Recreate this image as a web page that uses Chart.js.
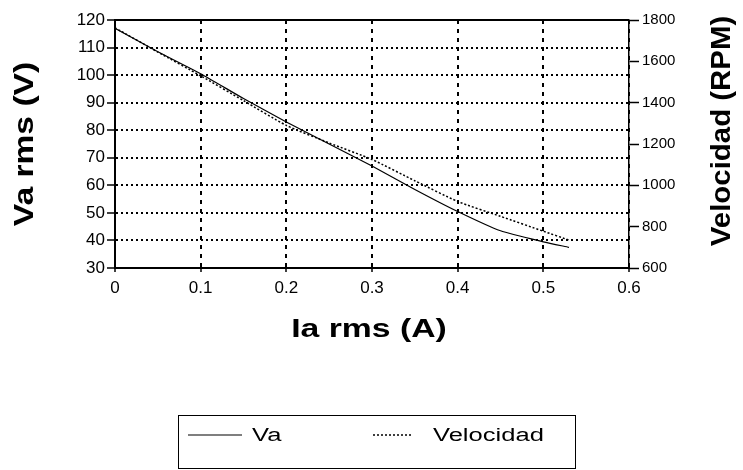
<!DOCTYPE html>
<html>
<head>
  <meta charset="utf-8">
  <title>Va y Velocidad vs Ia</title>
  <script src="https://cdn.jsdelivr.net/npm/chart.js@4"></script>
  <style>
    body { margin: 0; background: #fff; }
  </style>
</head>
<body>
  <canvas id="grafico" width="743" height="470"></canvas>

  <script>
    // corriente de armadura Ia rms (A)
    const ia = [0, 0.05, 0.10, 0.15, 0.20, 0.25, 0.30, 0.35, 0.40, 0.45, 0.50, 0.53];
    // tension de armadura Va rms (V)
    const va = [117, 108.5, 100.5, 91.5, 83, 75, 67, 58.5, 50.5, 43.5, 39.5, 37.5];
    // velocidad del motor (RPM)
    const velocidad = [1762, 1645, 1530, 1410, 1290, 1205, 1125, 1022, 922, 850, 778, 735];

    // marcas de los ejes
    const ticksIa = [0, 0.1, 0.2, 0.3, 0.4, 0.5, 0.6];
    const ticksVa = [30, 40, 50, 60, 70, 80, 90, 100, 110, 120];
    const ticksVel = [600, 800, 1000, 1200, 1400, 1600, 1800];

    const fuente = 'Liberation Sans, Arial, sans-serif';

    // texto estirado a lo largo de la linea de lectura
    function texto(ctx, t, x, y, font, sx, align, rot) {
      ctx.save();
      ctx.translate(x, y);
      if (rot) ctx.rotate(rot);
      ctx.scale(sx, 1);
      ctx.font = font;
      ctx.textAlign = align;
      ctx.textBaseline = 'middle';
      ctx.fillStyle = '#000';
      ctx.fillText(t, 0, 0);
      ctx.restore();
    }

    const marco = {
      id: 'marco',
      beforeDraw(chart) {
        const ctx = chart.ctx;
        ctx.save();
        ctx.fillStyle = '#fff';
        ctx.fillRect(0, 0, chart.width, chart.height);
        ctx.restore();
      },
      afterDraw(chart) {
        const { ctx, chartArea: a } = chart;

        // linea superior del recuadro
        ctx.save();
        ctx.strokeStyle = '#000';
        ctx.lineWidth = 2;
        ctx.beginPath();
        ctx.moveTo(a.left, a.top);
        ctx.lineTo(a.right, a.top);
        ctx.stroke();
        ctx.restore();

        // titulos de los ejes
        texto(ctx, 'Va rms (V)', 25, 144, 'bold 28px ' + fuente, 1.2, 'center', -Math.PI / 2);
        texto(ctx, 'Velocidad (RPM)', 722, 131, 'bold 28px ' + fuente, 1.05, 'center', -Math.PI / 2);
        texto(ctx, 'Ia rms (A)', 369, 330, 'bold 25px ' + fuente, 1.35, 'center');

        // leyenda en recuadro
        ctx.save();
        ctx.strokeStyle = '#000';
        ctx.lineWidth = 1;
        ctx.strokeRect(178.5, 415.5, 397, 53);
        const items = [
          { x0: 188, x1: 242, tx: 252 },
          { x0: 373, x1: 413, tx: 433 }
        ];
        chart.data.datasets.forEach((ds, i) => {
          const it = items[i];
          ctx.save();
          ctx.strokeStyle = ds.borderColor;
          ctx.lineWidth = ds.borderWidth;
          ctx.setLineDash(ds.borderDash || []);
          ctx.beginPath();
          ctx.moveTo(it.x0, 435);
          ctx.lineTo(it.x1, 435);
          ctx.stroke();
          ctx.restore();
          texto(ctx, ds.label, it.tx, 436, '18px ' + fuente, 1.42, 'left');
        });
        ctx.restore();
      }
    };

    const ctx = document.getElementById('grafico').getContext('2d');
    new Chart(ctx, {
      type: 'line',
      data: {
        datasets: [{
          label: 'Va',
          data: ia.map((x, i) => ({ x: x, y: va[i] })),
          yAxisID: 'y',
          borderColor: '#000',
          borderWidth: 1.2,
          pointRadius: 0,
          tension: 0.2,
          fill: false
        }, {
          label: 'Velocidad',
          data: ia.map((x, i) => ({ x: x, y: velocidad[i] })),
          yAxisID: 'y1',
          borderColor: '#000',
          borderWidth: 1.5,
          borderDash: [2, 2],
          pointRadius: 0,
          tension: 0.2,
          fill: false
        }]
      },
      options: {
        responsive: false,
        animation: false,
        devicePixelRatio: 1,
        layout: { padding: { top: 20, left: 0, right: 0, bottom: 0 } },
        plugins: {
          legend: { display: false },
          tooltip: { enabled: false }
        },
        scales: {
          x: {
            type: 'linear',
            min: 0,
            max: 0.6,
            afterBuildTicks: s => { s.ticks = ticksIa.map(v => ({ value: v })); },
            afterFit: s => { s.height = 202; },
            grid: { color: '#000', lineWidth: 2, tickLength: 4, tickWidth: 1.5 },
            border: { color: '#000', width: 2, dash: [4, 5] },
            ticks: {
              color: '#000',
              padding: 6,
              maxRotation: 0,
              font: { family: fuente, size: 17 },
              callback: v => String(v)
            }
          },
          y: {
            position: 'left',
            min: 30,
            max: 120,
            afterBuildTicks: s => { s.ticks = ticksVa.map(v => ({ value: v })); },
            afterFit: s => { s.width = 115; },
            grid: { color: '#000', lineWidth: 2, tickLength: 8, tickWidth: 1.5 },
            border: { color: '#000', width: 2, dash: [2, 3] },
            ticks: {
              color: '#000',
              padding: 2,
              font: { family: fuente, size: 17 },
              callback: v => String(v)
            }
          },
          y1: {
            position: 'right',
            min: 600,
            max: 1800,
            afterBuildTicks: s => { s.ticks = ticksVel.map(v => ({ value: v })); },
            afterFit: s => { s.width = 114; },
            grid: { drawOnChartArea: false, color: '#000', tickLength: 10, tickWidth: 1.5 },
            border: { color: '#000', width: 1.5 },
            ticks: {
              color: '#000',
              padding: 3,
              font: { family: fuente, size: 15 },
              callback: v => String(v)
            }
          }
        }
      },
      plugins: [marco]
    });
  </script>
</body>
</html>
